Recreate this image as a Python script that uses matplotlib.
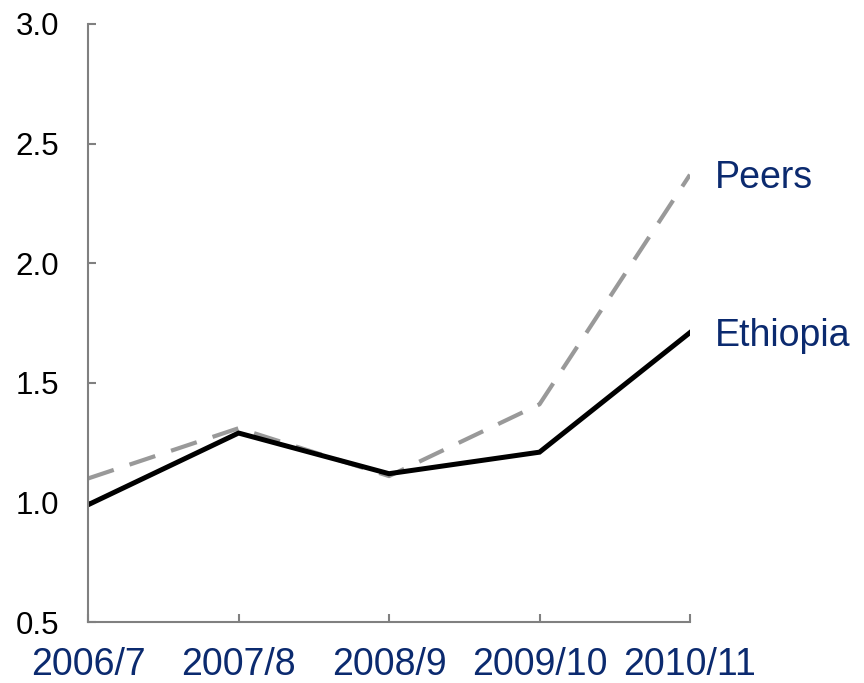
import matplotlib.pyplot as plt

# data
years = ["2006/7", "2007/8", "2008/9", "2009/10", "2010/11"]
ethiopia = [0.99, 1.29, 1.12, 1.21, 1.71]
peers = [1.10, 1.31, 1.11, 1.41, 2.37]

navy = "#0B2A6F"
spine_grey = "#808080"

fig = plt.figure(figsize=(8.64, 6.83), dpi=100)
ax = fig.add_axes([0.1019, 0.0893, 0.6967, 0.8756])

x = list(range(len(years)))
ax.plot(x, peers, color="#999999", linewidth=3.0, dashes=(6.5, 4.0), solid_capstyle="butt")
ax.plot(x, ethiopia, color="black", linewidth=3.6, solid_joinstyle="miter")

ax.set_xlim(0, len(years) - 1)
ax.set_ylim(0.5, 3.0)
ax.set_yticks([0.5, 1.0, 1.5, 2.0, 2.5, 3.0])
ax.set_yticklabels(["0.5", "1.0", "1.5", "2.0", "2.5", "3.0"], fontsize=22.5,
                   family="Liberation Sans")
ax.set_xticks(x)
ax.set_xticklabels(years, fontsize=27, color=navy, family="Liberation Sans")

for s in ["top", "right"]:
    ax.spines[s].set_visible(False)
for s in ["left", "bottom"]:
    ax.spines[s].set_color(spine_grey)
    ax.spines[s].set_linewidth(1.5)

ax.tick_params(axis="y", direction="in", length=6, width=1.5, color=spine_grey, pad=21)
ax.tick_params(axis="x", direction="in", length=6, width=1.5, color=spine_grey, pad=18)

# series labels at line ends, cap height centred on the line end
for name, vals in [("Peers", peers), ("Ethiopia", ethiopia)]:
    ax.annotate(name, xy=(x[-1], vals[-1]), xytext=(18, -9.7), textcoords="offset points",
                va="baseline", ha="left", fontsize=27, color=navy, family="Liberation Sans",
                annotation_clip=False)

fig.savefig("out.png", dpi=100)
